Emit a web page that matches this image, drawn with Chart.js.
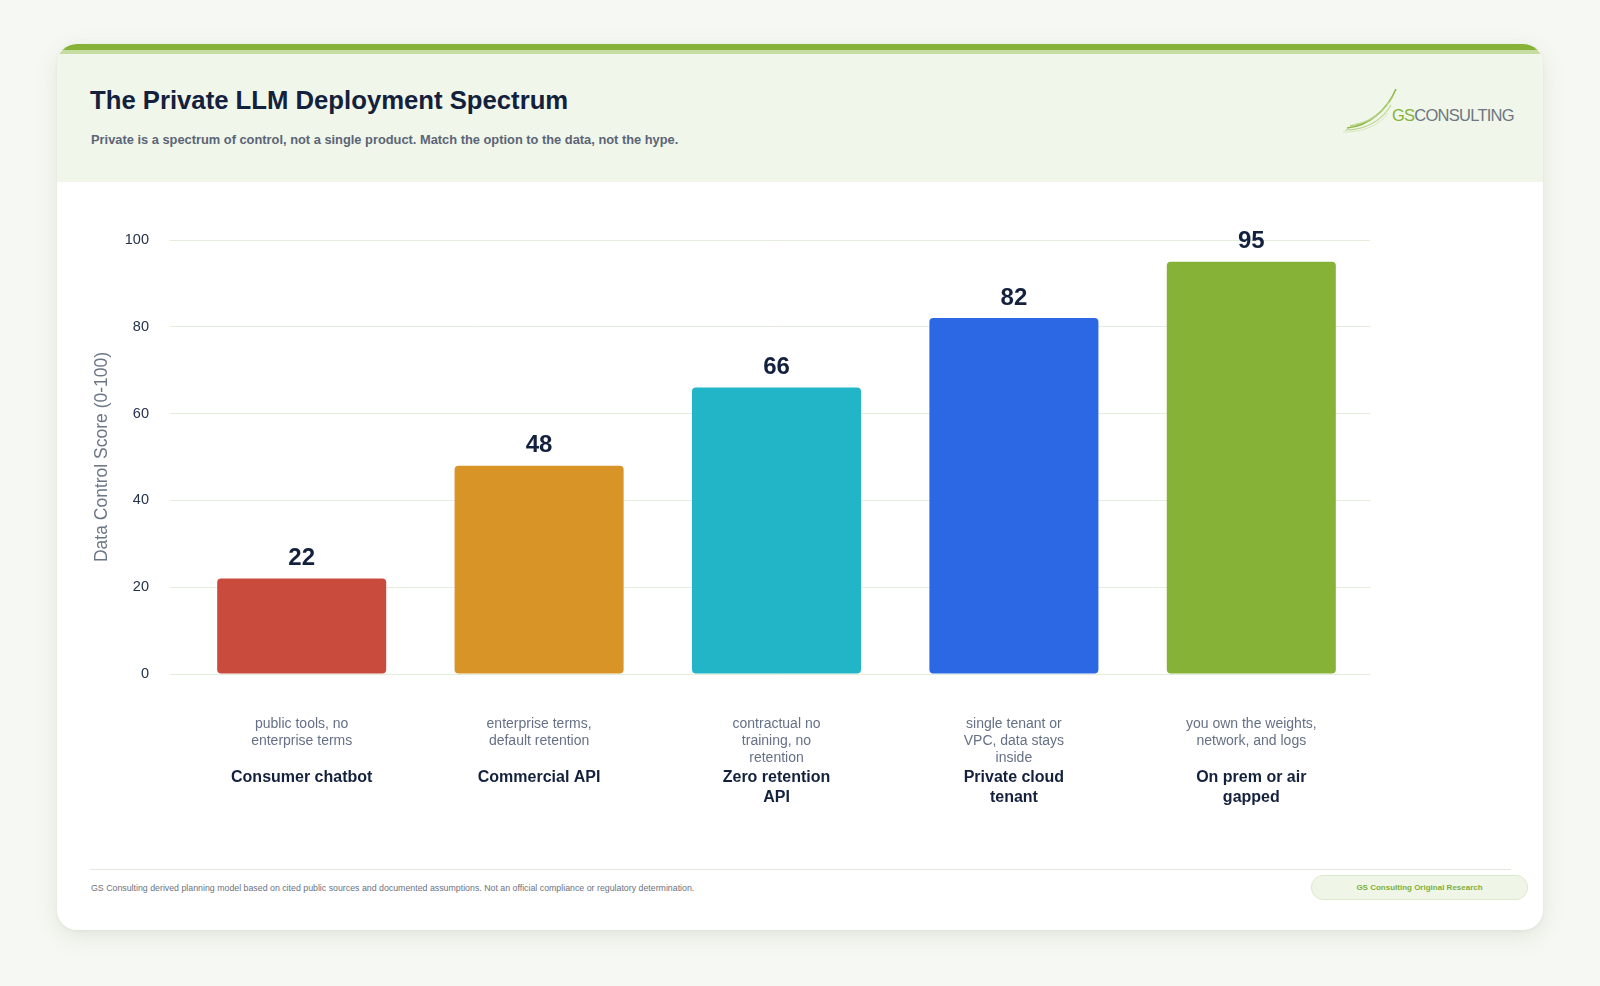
<!DOCTYPE html>
<html>
<head>
<meta charset="utf-8">
<script src="https://cdn.jsdelivr.net/npm/chart.js@4.4.1/dist/chart.umd.min.js"></script>
<style>
    html, body {
        margin: 0;
        padding: 0;
        width: 1600px;
        height: 986px;
        background: #f6f8f3;
        font-family: "Liberation Sans", Arial, sans-serif;
        overflow: hidden;
    }
    .card {
        position: absolute;
        left: 57px;
        top: 44px;
        width: 1486px;
        height: 886px;
        background: #ffffff;
        border-radius: 20px;
        overflow: hidden;
        box-shadow: 0 6px 22px rgba(90, 110, 70, 0.13), 0 1px 3px rgba(90, 110, 70, 0.08);
    }
    .topbar {
        position: absolute;
        left: 0; top: 0;
        width: 100%;
        height: 6px;
        background: #86b237;
    }
    .topbar2 {
        position: absolute;
        left: 0; top: 6px;
        width: 100%;
        height: 4px;
        background: #c6dca2;
    }
    .header {
        position: absolute;
        left: 0; top: 10px;
        width: 100%;
        height: 128px;
        background: #f0f6ea;
    }
    .titulo {
        position: absolute;
        left: 33px;
        top: 30px;
        margin: 0;
        font-size: 25.7px;
        font-weight: 700;
        color: #13213d;
        line-height: 32px;
    }
    .subtitulo {
        position: absolute;
        left: 34px;
        top: 78px;
        margin: 0;
        font-size: 12.85px;
        font-weight: 700;
        color: #5b6577;
        line-height: 16px;
    }
    .logo {
        position: absolute;
        left: 1286px;
        top: 32px;
    }
    .grafico {
        position: absolute;
        left: 0;
        top: 138px;
        width: 1486px;
        height: 642px;
    }
    .rodape-linha {
        position: absolute;
        left: 33px;
        top: 825px;
        width: 1421px;
        height: 1px;
        background: #e3eadb;
    }
    .rodape {
        position: absolute;
        left: 34px;
        top: 838px;
        font-size: 8.8px;
        color: #6b7280;
        line-height: 12px;
    }
    .selo {
        position: absolute;
        left: 1254px;
        top: 831px;
        width: 215px;
        height: 23px;
        border-radius: 12px;
        background: #eff6e8;
        border: 1px solid #dde9cf;
        font-size: 8px;
        font-weight: 700;
        color: #7fae3a;
        text-align: center;
        line-height: 23px;
    }
</style>
</head>
<body>
<div class="card">
    <div class="topbar"></div>
    <div class="topbar2"></div>
    <div class="header">
        <h1 class="titulo">The Private LLM Deployment Spectrum</h1>
        <p class="subtitulo">Private is a spectrum of control, not a single product. Match the option to the data, not the hype.</p>
        <svg class="logo" width="180" height="48" viewBox="0 0 180 48">
            <path d="M4 42 C 26 40, 44 24, 53 3" stroke="#86b237" stroke-width="1.6" fill="none" opacity="0.9"/>
            <path d="M7 40 C 27 37, 42 25, 50 10" stroke="#a5c86a" stroke-width="1.3" fill="none" opacity="0.85"/>
            <path d="M2 44 C 22 44, 39 35, 48 19" stroke="#b2d07f" stroke-width="1.1" fill="none" opacity="0.85"/>
            <path d="M12 38 C 28 35, 40 28, 46 16" stroke="#c9dea6" stroke-width="1" fill="none" opacity="0.85"/>
            <path d="M0 46 C 20 46, 36 40, 45 27" stroke="#d3e5b5" stroke-width="1" fill="none" opacity="0.85"/>
            <text x="49" y="35" font-family="Liberation Sans, Arial, sans-serif" font-size="16.5" letter-spacing="-0.75">
                <tspan fill="#86b237">GS</tspan><tspan fill="#6d7681">CONSULTING</tspan>
            </text>
        </svg>
    </div>
    <div class="grafico"><canvas id="espectro"></canvas></div>
    <div class="rodape-linha"></div>
    <div class="rodape">GS Consulting derived planning model based on cited public sources and documented assumptions. Not an official compliance or regulatory determination.</div>
    <div class="selo">GS Consulting Original Research</div>
</div>

<script>
const categorias = [
    ["Consumer chatbot"],
    ["Commercial API"],
    ["Zero retention", "API"],
    ["Private cloud", "tenant"],
    ["On prem or air", "gapped"]
];
const descricoes = [
    ["public tools, no", "enterprise terms"],
    ["enterprise terms,", "default retention"],
    ["contractual no", "training, no", "retention"],
    ["single tenant or", "VPC, data stays", "inside"],
    ["you own the weights,", "network, and logs"]
];
const pontuacoes = [22, 48, 66, 82, 95];
const coresBarras = ["#c84b3e", "#d99427", "#22b5c7", "#2c68e3", "#86b237"];
const ticksY = [0, 20, 40, 60, 80, 100];

const fonte = "'Liberation Sans', Arial, sans-serif";

// valores em cima das barras
const valoresPlugin = {
    id: "valores",
    afterDatasetsDraw(chart) {
        const { ctx } = chart;
        const meta = chart.getDatasetMeta(0);
        ctx.save();
        ctx.textAlign = "center";
        ctx.textBaseline = "middle";
        ctx.font = `700 24px ${fonte}`;
        ctx.fillStyle = "#13213d";
        meta.data.forEach((barra, i) => {
            ctx.fillText(String(pontuacoes[i]), barra.x, barra.y - 20);
        });
        ctx.restore();
    }
};

// descricao cinza acima do nome da categoria
const descricoesPlugin = {
    id: "descricoes",
    afterDraw(chart) {
        const { ctx } = chart;
        const xScale = chart.scales.x;
        ctx.save();
        ctx.textAlign = "center";
        ctx.textBaseline = "middle";
        ctx.font = `400 14px ${fonte}`;
        ctx.fillStyle = "#667085";
        descricoes.forEach((linhas, i) => {
            const x = xScale.getPixelForTick(i);
            linhas.forEach((linha, j) => {
                ctx.fillText(linha, x, xScale.top + 50 + j * 17);
            });
        });
        ctx.restore();
    }
};

new Chart(document.getElementById("espectro"), {
    type: "bar",
    data: {
        labels: categorias,
        datasets: [{
            data: pontuacoes,
            backgroundColor: coresBarras,
            borderRadius: 4,
            borderSkipped: false,
            barPercentage: 0.712,
            categoryPercentage: 1
        }]
    },
    plugins: [valoresPlugin, descricoesPlugin],
    options: {
        responsive: true,
        maintainAspectRatio: false,
        animation: false,
        layout: {
            padding: { top: 58, right: 173, bottom: 0, left: 30 }
        },
        plugins: {
            legend: { display: false },
            tooltip: { enabled: false }
        },
        scales: {
            x: {
                grid: { display: false, drawTicks: false },
                border: { display: false },
                afterFit(scale) { scale.height = 150; },
                ticks: {
                    color: "#13213d",
                    padding: 94,
                    maxRotation: 0,
                    autoSkip: false,
                    font: { family: fonte, size: 16, weight: "700", lineHeight: 1.22 }
                }
            },
            y: {
                min: 0,
                max: 100,
                afterFit(scale) { scale.width = 96; },
                afterBuildTicks(scale) { scale.ticks = ticksY.map(v => ({ value: v })); },
                grid: {
                    color: "#e4ecdc",
                    lineWidth: 1,
                    tickLength: 13
                },
                border: { display: false },
                ticks: {
                    color: "#24324a",
                    padding: 21,
                    font: { family: fonte, size: 14.5 }
                },
                title: {
                    display: true,
                    text: "Data Control Score (0-100)",
                    color: "#6b7686",
                    padding: { top: 5, bottom: 0 },
                    font: { family: fonte, size: 17.5, weight: "400", lineHeight: 1.2 }
                }
            }
        }
    }
});
</script>
</body>
</html>
